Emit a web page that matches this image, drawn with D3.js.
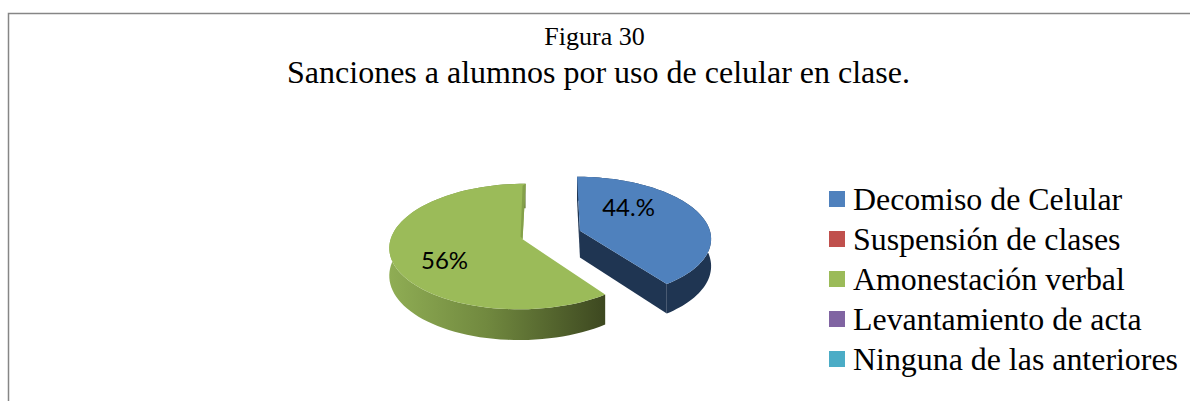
<!DOCTYPE html>
<html>
<head>
<meta charset="utf-8">
<script src="https://cdn.jsdelivr.net/npm/d3@7"></script>
<style>
    html, body { margin: 0; padding: 0; background: #fff; }
    svg { display: block; }
    .title { font-family: "Liberation Serif", serif; fill: #000; }
    .pct { font-family: Lato, sans-serif; font-size: 24px; fill: #000; text-anchor: middle; }
</style>
</head>
<body>
<div id="visualization"></div>
<script>
// datos
const categories = ['Decomiso de Celular', 'Suspensión de clases', 'Amonestación verbal', 'Levantamiento de acta', 'Ninguna de las anteriores'];
// los sectores dibujados miden 40/60 en la imagen aunque las etiquetas digan 44 y 56
const sliceValues = [40, 0, 60, 0, 0];
const sliceLabels = ['44.%', '', '56%', '', ''];
const colors = ['#4f81bd', '#c0504d', '#9bbb59', '#8064a2', '#4bacc6'];

const width = 1190;
const height = 401;

const svg = d3.select('#visualization')
    .append('svg')
    .attr('width', width)
    .attr('height', height);

// marco
svg.append('path')
    .attr('d', `M8.5,${height}V13.5H${width}`)
    .attr('fill', 'none')
    .attr('stroke', '#868686')
    .attr('stroke-width', 1.5);

// titulos
svg.append('text').attr('class', 'title')
    .attr('x', 594.5).attr('y', 45)
    .attr('text-anchor', 'middle')
    .style('font-size', '26px')
    .text('Figura 30');

svg.append('text').attr('class', 'title')
    .attr('x', 598.5).attr('y', 83)
    .attr('text-anchor', 'middle')
    .style('font-size', '32px')
    .text('Sanciones a alumnos por uso de celular en clase.');

// proyeccion del disco con perspectiva
const cx = 551.5, cy = 235, rx = 131, ry = 61, persp = 0.113, depth = 27, explode = 0.23;

function project(X, Y, z) {
    const w = 1 + persp * Y;
    return [cx + rx * X / w, cy - ry * Y / w + z * depth / w];
}

const pie = d3.pie().sort(null);
const arcs = pie(sliceValues);

function rimPoints(d, z) {
    const mid = (d.startAngle + d.endAngle) / 2;
    const ox = explode * Math.sin(mid), oy = explode * Math.cos(mid);
    const steps = d3.range(0, 81).map(i => d.startAngle + (d.endAngle - d.startAngle) * i / 80);
    return {
        apex: project(ox, oy, z),
        rim: steps.map(a => project(ox + Math.sin(a), oy + Math.cos(a), z))
    };
}

const line = d3.line();

// degradado del lateral verde
const grad = svg.append('defs').append('linearGradient').attr('id', 'greenSide');
grad.append('stop').attr('offset', '0%').attr('stop-color', '#8fad54');
grad.append('stop').attr('offset', '45%').attr('stop-color', '#71893f');
grad.append('stop').attr('offset', '100%').attr('stop-color', '#3d4820');

const sideColor = { 0: '#1f3552', 2: 'url(#greenSide)' };

arcs.forEach((d, i) => {
    if (d.value === 0) return;
    const top = rimPoints(d, 0);
    const bottom = rimPoints(d, 1);
    const g = svg.append('g').attr('class', 'slice');

    // lateral curvo
    g.append('path')
        .attr('d', line(top.rim.concat(bottom.rim.slice().reverse())) + 'Z')
        .attr('fill', sideColor[i]);

    // pared del corte (solo se ve la del sector azul)
    if (i === 0) {
        const last = top.rim.length - 1;
        g.append('path')
            .attr('d', line([top.apex, top.rim[last], bottom.rim[last], bottom.apex]) + 'Z')
            .attr('fill', sideColor[i]);
        g.append('path')
            .attr('d', line([top.rim[0], top.apex, bottom.apex, bottom.rim[0]]) + 'Z')
            .attr('fill', sideColor[i]);
    }

    // cara superior
    g.append('path')
        .attr('d', line([top.apex].concat(top.rim)) + 'Z')
        .attr('fill', colors[i]);

    // borde oscuro fino del sector verde
    if (i === 2) {
        const last = top.rim.length - 1;
        g.append('path')
            .attr('d', line([top.rim[last], top.apex, [top.apex[0] - 2, top.apex[1] - 3], [top.rim[last][0] - 3, top.rim[last][1] + 2]]) + 'Z')
            .attr('fill', '#84a04a');
    }
});

// etiquetas de porcentaje
const labelAt = d3.scaleOrdinal().domain(d3.range(5)).range([[0.4, 0.39], [0, 0], [-0.56, -0.34], [0, 0], [0, 0]]);
arcs.forEach((d, i) => {
    if (!sliceLabels[i]) return;
    const mid = (d.startAngle + d.endAngle) / 2;
    const [lx, ly] = labelAt(i);
    const p = project(explode * Math.sin(mid) + lx, explode * Math.cos(mid) + ly, 0);
    svg.append('text').attr('class', 'pct')
        .attr('x', p[0]).attr('y', p[1] + 8)
        .text(sliceLabels[i]);
});

// leyenda
const legendY = d3.scalePoint().domain(categories).range([200, 360]);

const legend = svg.selectAll('.legend')
    .data(categories)
    .enter()
    .append('g')
    .attr('class', 'legend')
    .attr('transform', d => `translate(829, ${legendY(d)})`);

legend.append('rect')
    .attr('y', -9)
    .attr('width', 16)
    .attr('height', 16)
    .attr('fill', (d, i) => colors[i]);

legend.append('text')
    .attr('class', 'title')
    .attr('x', 24)
    .attr('y', 10)
    .style('font-size', '31.9px')
    .text(d => d);
</script>
</body>
</html>
